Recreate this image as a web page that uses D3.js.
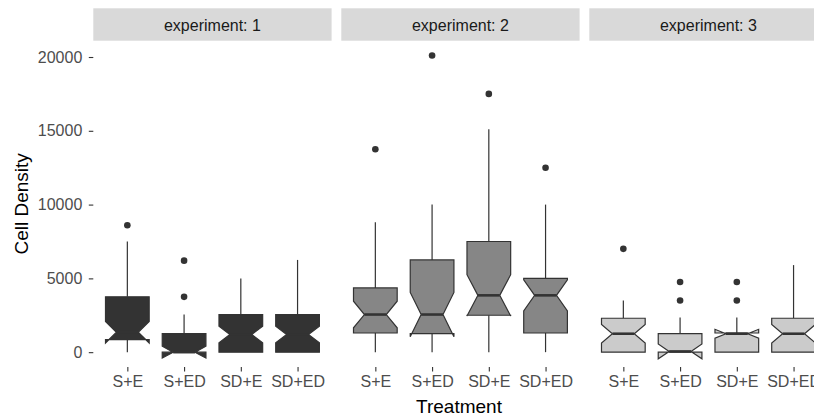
<!DOCTYPE html>
<html><head><meta charset="utf-8">
<script src="https://cdn.jsdelivr.net/npm/d3@7"></script>
<style>body{margin:0;background:#fff;} svg{display:block;font-family:"Liberation Sans",Arial,sans-serif;}</style>
</head><body><svg id="c" width="814" height="419"></svg>
<script>
const experiments = ["1", "2", "3"];
const treatments = ["S+E", "S+ED", "SD+E", "SD+ED"];
const fills = ["#333333", "#868686", "#cbcbcb"];
// per experiment, per treatment
const q1 = [[850, 0, 0, 0], [1300, 1250, 2500, 1300], [0, 0, 0, 0]];
const median = [[1350, 0, 1200, 1200], [2550, 2550, 3850, 3850], [1250, 50, 1250, 1250]];
const q3 = [[3750, 1250, 2550, 2550], [4350, 6250, 7500, 5000], [2300, 1250, 1300, 2300]];
const notchHalf = [[730, 400, 560, 560], [900, 1500, 1400, 1050], [630, 500, 300, 630]];
const whiskerLow = [[0, 0, 0, 0], [0, 0, 0, 0], [0, 0, 0, 0]];
const whiskerHigh = [[7500, 2550, 5000, 6250], [8800, 10000, 15100, 10000], [3500, 2350, 2350, 5900]];
const outliers = [[[8600], [6200, 3750], [], []], [[13750], [20100], [17500], [12500]], [[7000], [4750, 3500], [4750, 3500], []]];
const yTicks = [0, 5000, 10000, 15000, 20000];

const svg = d3.select("#c");
const panelLeft0 = 93.3, panelW = 238.3, panelGap = 9.7;
const stripTop = 8.3, stripBottom = 40.7, panelBottom = 367;
const ink = "#333333";

let lo = Infinity, hi = -Infinity;
experiments.forEach((e, i) => treatments.forEach((t, j) => {
  lo = Math.min(lo, whiskerLow[i][j], ...outliers[i][j]);
  hi = Math.max(hi, whiskerHigh[i][j], ...outliers[i][j]);
}));
const pad = (hi - lo) * 0.05;
const y = d3.scaleLinear().domain([lo - pad, hi + pad]).range([panelBottom, stripBottom]);

// y axis
const ya = svg.append("g").attr("transform", `translate(${panelLeft0},0)`)
  .call(d3.axisLeft(y).tickValues(yTicks).tickSize(4.5).tickPadding(6.5).tickFormat(d3.format("d")));
ya.select(".domain").remove();
ya.selectAll("line").attr("stroke", ink).attr("stroke-width", 1.1);
ya.selectAll("text").attr("fill", "#4d4d4d").style("font-size", "16px").style("font-family", "Liberation Sans, Arial, sans-serif");

const boxW = 0.77, notchW = 0.5;
experiments.forEach((e, i) => {
  const left = panelLeft0 + i * (panelW + panelGap);
  const x = d3.scalePoint().domain(treatments).range([left, left + panelW]).padding(0.6);
  const step = x.step();
  // strip
  svg.append("rect").attr("x", left).attr("y", stripTop).attr("width", panelW).attr("height", stripBottom - stripTop).attr("fill", "#d9d9d9");
  svg.append("text").attr("x", left + panelW / 2).attr("y", (stripTop + stripBottom) / 2 + 1)
    .attr("text-anchor", "middle").attr("dominant-baseline", "central").attr("fill", "#1a1a1a")
    .style("font-size", "16px").text("experiment: " + e);
  // x axis
  const xa = svg.append("g").attr("transform", `translate(0,${panelBottom})`)
    .call(d3.axisBottom(x).tickSize(4.5).tickPadding(4.5));
  xa.select(".domain").remove();
  xa.selectAll("line").attr("stroke", ink).attr("stroke-width", 1.1);
  xa.selectAll("text").attr("fill", "#4d4d4d").style("font-size", "16px").style("font-family", "Liberation Sans, Arial, sans-serif");

  const g = svg.append("g");
  treatments.forEach((t, j) => {
    const cx = x(t);
    const hw = boxW * step / 2;
    const xmin = cx - hw, xmax = cx + hw;
    const ni = (1 - notchW) * hw;
    const nu = median[i][j] + notchHalf[i][j], nl = median[i][j] - notchHalf[i][j];
    // whiskers
    g.append("line").attr("x1", cx).attr("x2", cx).attr("y1", y(q3[i][j])).attr("y2", y(whiskerHigh[i][j])).attr("stroke", ink).attr("stroke-width", 1.2);
    g.append("line").attr("x1", cx).attr("x2", cx).attr("y1", y(q1[i][j])).attr("y2", y(whiskerLow[i][j])).attr("stroke", ink).attr("stroke-width", 1.2);
    // outliers
    outliers[i][j].forEach(v => g.append("circle").attr("cx", cx).attr("cy", y(v)).attr("r", 3.3).attr("fill", ink));
    // notched box
    const pts = [[xmin, q3[i][j]], [xmin, nu], [xmin + ni, median[i][j]], [xmin, nl], [xmin, q1[i][j]],
      [xmax, q1[i][j]], [xmax, nl], [xmax - ni, median[i][j]], [xmax, nu], [xmax, q3[i][j]]];
    g.append("path").attr("d", d3.line().x(p => p[0]).y(p => y(p[1]))(pts) + "Z")
      .attr("fill", fills[i]).attr("stroke", ink).attr("stroke-width", 1.2).attr("stroke-linejoin", "miter");
    g.append("line").attr("x1", xmin + ni).attr("x2", xmax - ni).attr("y1", y(median[i][j])).attr("y2", y(median[i][j]))
      .attr("stroke", ink).attr("stroke-width", 2.6);
  });
});

// axis titles
svg.append("text").attr("x", 459).attr("y", 413).attr("text-anchor", "middle").attr("fill", "#000")
  .style("font-size", "19px").text("Treatment");
svg.append("text").attr("transform", `translate(28,${(stripBottom + panelBottom) / 2}) rotate(-90)`)
  .attr("text-anchor", "middle").attr("fill", "#000").style("font-size", "19px").text("Cell Density");
</script></body></html>
